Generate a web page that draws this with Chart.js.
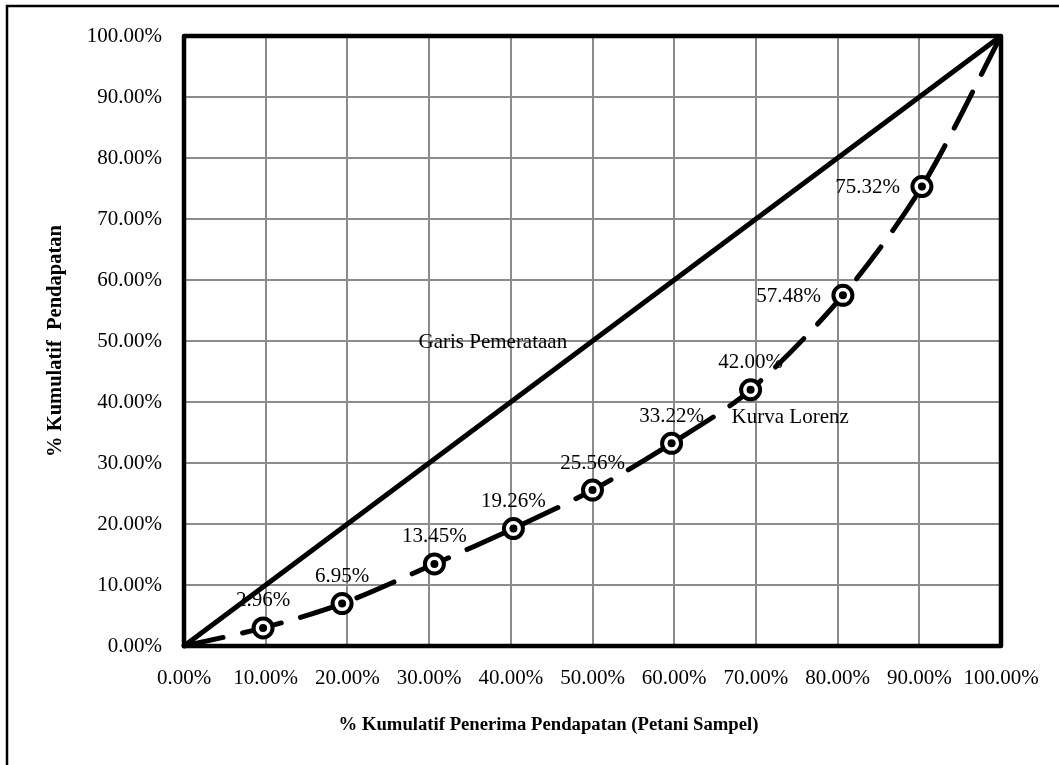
<!DOCTYPE html>
<html>
<head>
<meta charset="utf-8">
<script src="https://cdn.jsdelivr.net/npm/chart.js@4.4.1/dist/chart.umd.min.js"></script>
<style>
  html, body { margin: 0; padding: 0; background: #ffffff; }
  #wrap { width: 1059px; height: 765px; position: relative; }
</style>
</head>
<body>
<div id="wrap"><canvas id="c" width="1059" height="765"></canvas></div>
<script>
// ---- data ----
const cumRecipients = [0, 9.68, 19.35, 30.65, 40.32, 50.00, 59.68, 69.35, 80.65, 90.32, 100];
const cumIncome     = [0, 2.96, 6.95, 13.45, 19.26, 25.56, 33.22, 42.00, 57.48, 75.32, 100];
const labelSide     = ['none', 'above', 'above', 'above', 'above', 'above', 'above', 'above', 'left', 'left', 'none'];
const equalityX = [0, 100];
const equalityY = [0, 100];
const tickValues = [0, 10, 20, 30, 40, 50, 60, 70, 80, 90, 100];
const xTitle = '% Kumulatif Penerima Pendapatan (Petani Sampel)';
const yTitle = '% Kumulatif  Pendapatan';
const equalityLabel = { text: 'Garis Pemerataan', x: 37.8, y: 49.8 };
const lorenzLabel   = { text: 'Kurva Lorenz', x: 74.2, y: 37.4 };

const FONT = '"Liberation Serif", "Times New Roman", Times, serif';

const lorenzPts = cumRecipients.map((x, i) => ({ x: x, y: cumIncome[i] }));
const equalityPts = equalityX.map((x, i) => ({ x: x, y: equalityY[i] }));
const pointR = labelSide.map(s => s === 'none' ? 0 : 9.5);
const dotR = labelSide.map(s => s === 'none' ? 0 : 4);

const fmt = v => Number(v).toFixed(2) + '%';

const framePlugin = {
  id: 'frame',
  beforeDraw(chart) {
    const ctx = chart.ctx;
    ctx.save();
    ctx.fillStyle = '#ffffff';
    ctx.fillRect(0, 0, chart.width, chart.height);
    ctx.strokeStyle = '#000000';
    ctx.lineWidth = 2.5;
    ctx.strokeRect(7, 6, chart.width + 20, chart.height + 20);
    ctx.restore();
  },
  beforeDatasetsDraw(chart) {
    const ctx = chart.ctx;
    const a = chart.chartArea;
    ctx.save();
    ctx.strokeStyle = '#000000';
    ctx.lineWidth = 4.5;
    ctx.lineJoin = 'round';
    ctx.strokeRect(a.left, a.top, a.right - a.left, a.bottom - a.top);
    ctx.restore();
  },
  afterDatasetsDraw(chart) {
    const ctx = chart.ctx;
    const xs = chart.scales.x, ys = chart.scales.y;
    const a = chart.chartArea;
    ctx.save();
    ctx.fillStyle = '#000000';
    ctx.font = '21px ' + FONT;
    // data labels
    cumRecipients.forEach((xv, i) => {
      const side = labelSide[i];
      if (side === 'none') return;
      const px = xs.getPixelForValue(xv);
      const py = ys.getPixelForValue(cumIncome[i]);
      const txt = fmt(cumIncome[i]);
      if (side === 'above') {
        ctx.textAlign = 'center';
        ctx.textBaseline = 'middle';
        ctx.fillText(txt, px, py - 27);
      } else {
        ctx.textAlign = 'right';
        ctx.textBaseline = 'middle';
        ctx.fillText(txt, px - 22, py + 1);
      }
    });
    // series annotations
    ctx.textAlign = 'center';
    ctx.textBaseline = 'middle';
    [equalityLabel, lorenzLabel].forEach(l => {
      ctx.fillText(l.text, xs.getPixelForValue(l.x), ys.getPixelForValue(l.y));
    });
    // x axis title
    ctx.font = 'bold 18.7px ' + FONT;
    ctx.fillText(xTitle, (a.left + a.right) / 2 - 44, 725);
    ctx.restore();
  }
};

new Chart(document.getElementById('c'), {
  type: 'scatter',
  data: {
    datasets: [
      {
        label: 'Garis Pemerataan',
        data: equalityPts,
        showLine: true,
        borderColor: '#000000',
        borderWidth: 5,
        pointRadius: 0,
        pointHoverRadius: 0,
        clip: false,
        order: 3
      },
      {
        label: 'Kurva Lorenz',
        data: lorenzPts,
        showLine: true,
        borderColor: '#000000',
        borderWidth: 5,
        borderDash: [40, 20],
        borderCapStyle: 'round',
        tension: 0.3,
        pointRadius: pointR,
        pointHoverRadius: pointR,
        pointBorderWidth: 4,
        pointBorderColor: '#000000',
        pointBackgroundColor: '#ffffff',
        clip: false,
        order: 2
      },
      {
        label: 'dots',
        data: lorenzPts,
        showLine: false,
        pointRadius: dotR,
        pointHoverRadius: dotR,
        pointBorderWidth: 0,
        pointBackgroundColor: '#000000',
        clip: false,
        order: 1
      }
    ]
  },
  options: {
    responsive: false,
    animation: false,
    events: [],
    layout: { padding: { top: 36, right: 58, bottom: 0, left: 0 } },
    plugins: {
      legend: { display: false },
      tooltip: { enabled: false },
      title: { display: false }
    },
    scales: {
      x: {
        type: 'linear',
        min: 0, max: 100,
        afterBuildTicks(scale) { scale.ticks = tickValues.map(v => ({ value: v })); },
        afterFit(scale) { scale.height = 119; },
        grid: { color: '#8c8c8c', lineWidth: 2, drawTicks: false },
        border: { display: false },
        ticks: {
          color: '#000000',
          padding: 20,
          maxRotation: 0,
          autoSkip: false,
          font: { family: FONT, size: 21 },
          callback: v => fmt(v)
        }
      },
      y: {
        type: 'linear',
        min: 0, max: 100,
        afterBuildTicks(scale) { scale.ticks = tickValues.map(v => ({ value: v })); },
        afterFit(scale) { scale.width = 184; },
        grid: { color: '#8c8c8c', lineWidth: 2, drawTicks: false },
        border: { display: false },
        ticks: {
          color: '#000000',
          padding: 22,
          autoSkip: false,
          font: { family: FONT, size: 21 },
          callback: v => fmt(v)
        },
        title: {
          display: true,
          text: yTitle,
          color: '#000000',
          font: { family: FONT, size: 20.5, weight: 'bold' },
          padding: { top: 43, bottom: 0 }
        }
      }
    }
  },
  plugins: [framePlugin]
});
</script>
</body>
</html>
